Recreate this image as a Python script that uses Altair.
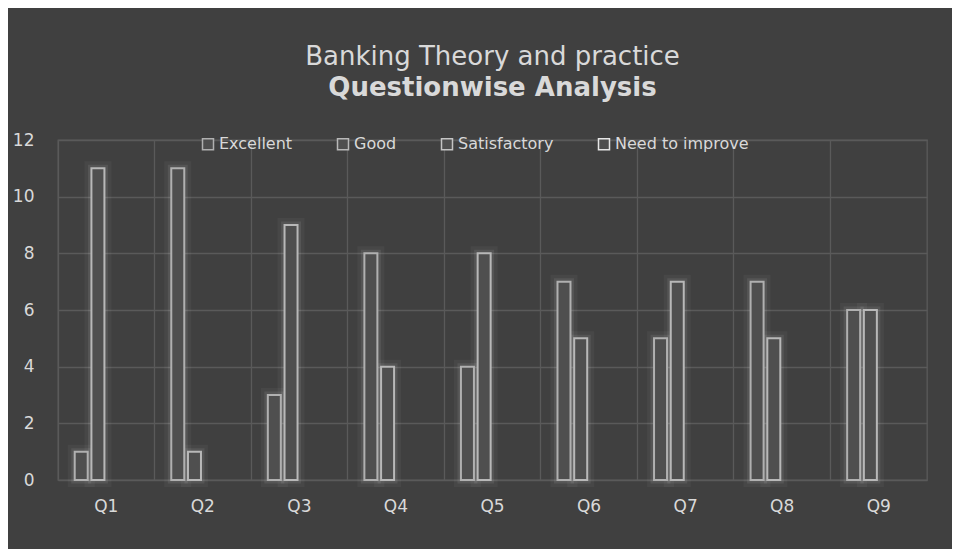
import altair as alt
import pandas as pd

questions = ["Q1", "Q2", "Q3", "Q4", "Q5", "Q6", "Q7", "Q8", "Q9"]
series = ["Excellent", "Good", "Satisfactory", "Need to improve"]
excellent = [1, 11, 3, 8, 4, 7, 5, 7, 6]
good = [11, 1, 9, 4, 8, 5, 7, 5, 6]
satisfactory = [0, 0, 0, 0, 0, 0, 0, 0, 0]
need_to_improve = [0, 0, 0, 0, 0, 0, 0, 0, 0]
y_ticks = [0, 2, 4, 6, 8, 10, 12]

rows = []
for name, vals in zip(series, [excellent, good, satisfactory, need_to_improve]):
    for q, v in zip(questions, vals):
        rows.append({"question": q, "series": name, "value": v})
df = pd.DataFrame(rows)

FONT = "DejaVu Sans"
TXT = "#d9d9d9"
GRID = "#5a5a5a"

x_enc = alt.X("question:N", sort=questions, title=None,
              scale=alt.Scale(paddingInner=0, paddingOuter=0),
              axis=alt.Axis(labelAngle=0, labelFontSize=17, labelColor=TXT, labelFont=FONT,
                            labelPadding=18, ticks=False, domain=False, grid=True,
                            bandPosition=0, gridColor=GRID, gridWidth=1.3))
xo_enc = alt.XOffset("series:N", sort=series,
                     scale=alt.Scale(domain=series, paddingInner=0.222, paddingOuter=1))
y_enc = alt.Y("value:Q", title=None,
              scale=alt.Scale(domain=[0, 12], nice=False),
              axis=alt.Axis(values=y_ticks, labelFontSize=17, labelColor=TXT, labelFont=FONT,
                            labelPadding=24, ticks=False, domain=False,
                            gridColor=GRID, gridWidth=1.3))

base = alt.Chart(df).transform_filter("datum.value > 0").encode(x=x_enc, xOffset=xo_enc, y=y_enc)

glow1 = base.mark_bar(fillOpacity=0, stroke="#ffffff", strokeOpacity=0.04, strokeWidth=14)
glow2 = base.mark_bar(fillOpacity=0, stroke="#ffffff", strokeOpacity=0.08, strokeWidth=7)
bars = base.mark_bar(fill="#4f4f4f", strokeWidth=2).encode(
    stroke=alt.Stroke("series:N", sort=series,
                      scale=alt.Scale(domain=series,
                                      range=["#b0b0b0", "#b8b8b8", "#c4c4c4", "#e6e6e6"]),
                      legend=alt.Legend(title=None, orient="none", direction="horizontal",
                                        legendX=142, legendY=-4, symbolType="square",
                                        symbolSize=121, symbolStrokeWidth=1.5,
                                        symbolFillColor="#454545",
                                        labelFontSize=16, labelColor=TXT, labelFont=FONT,
                                        columnPadding=41, labelOffset=3))
)

chart = alt.layer(glow1, glow2, bars).properties(
    width=869, height=340,
    autosize=alt.AutoSizeParams(type="none"),
    padding={"left": 50, "top": 132, "right": 25, "bottom": 69},
    title=alt.TitleParams("Banking Theory and practice", subtitle="Questionwise Analysis",
                          fontSize=26, fontWeight="normal", color=TXT, font=FONT,
                          subtitleFontSize=26, subtitleFontWeight="bold", subtitleColor=TXT,
                          subtitleFont=FONT, subtitlePadding=5, offset=30, anchor="middle"),
).configure(background="#404040").configure_view(stroke=GRID, strokeWidth=1.3)

chart.save("out.html", embed_options={"renderer": "svg", "actions": False})
